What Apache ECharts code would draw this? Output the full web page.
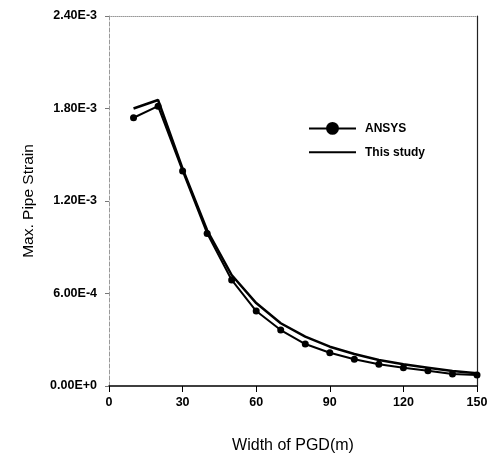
<!DOCTYPE html>
<html><head><meta charset="utf-8">
<script src="https://cdn.jsdelivr.net/npm/echarts@6/dist/echarts.min.js"></script>
<style>html,body{margin:0;padding:0;background:#fff}#c{width:489px;height:457px}</style>
</head><body><div id="c"></div>
<script>
var widths = [10,20,30,40,50,60,70,80,90,100,110,120,130,140,150];
var ansys = [1.74e-3,1.815e-3,1.395e-3,9.9e-4,6.88e-4,4.86e-4,3.63e-4,2.72e-4,2.16e-4,1.73e-4,1.41e-4,1.19e-4,9.9e-5,7.8e-5,7.1e-5];
var thisStudy = [1.80e-3,1.855e-3,1.41e-3,1.01e-3,7.2e-4,5.38e-4,4.07e-4,3.2e-4,2.55e-4,2.08e-4,1.69e-4,1.41e-4,1.19e-4,9.7e-5,8.2e-5];
var yTickLabels = ['0.00E+0','6.00E-4','1.20E-3','1.80E-3','2.40E-3'];
var xTickLabels = ['0','30','60','90','120','150'];

var chart = echarts.init(document.getElementById('c'));
var lab = {fontFamily:'Liberation Sans, Arial', fontWeight:'bold', fontSize:12.5, color:'#000'};
chart.setOption({
  animation:false,
  backgroundColor:'#fff',
  grid:{left:109, right:12, top:16, bottom:71, containLabel:false, outerBoundsMode:'none'},
  legend:{
    orient:'vertical', left:303, top:117, itemWidth:47, itemHeight:16, itemGap:11,
    textStyle:{fontFamily:'Liberation Sans, Arial', fontWeight:'bold', fontSize:12, color:'#000', padding:[0,0,0,4]},
    data:[{name:'ANSYS'},{name:'This study', itemStyle:{opacity:0}}]
  },
  xAxis:[{
    type:'value', min:0, max:150, interval:30, position:'bottom',
    name:'Width of PGD(m)', nameLocation:'middle', nameGap:52,
    nameTextStyle:{fontFamily:'Liberation Sans, Arial', fontSize:16, color:'#000'},
    axisLine:{lineStyle:{color:'#000', width:1.5}},
    axisTick:{inside:false, length:6, lineStyle:{color:'#000'}},
    axisLabel:Object.assign({margin:10, formatter:function(v){return xTickLabels[Math.round(v/30)];}}, lab),
    splitLine:{show:false}
  },{
    type:'value', min:0, max:150, position:'top',
    axisLine:{onZero:false, lineStyle:{color:'#999', type:'dotted', width:1}},
    axisTick:{show:false}, axisLabel:{show:false}, splitLine:{show:false}
  }],
  yAxis:[{
    type:'value', min:0, max:2.4e-3, interval:6e-4,
    name:'Max. Pipe Strain', nameLocation:'middle', nameGap:72, nameRotate:90,
    nameTextStyle:{fontFamily:'Liberation Sans, Arial', fontSize:15.5, color:'#000'},
    axisLine:{show:true, lineStyle:{color:'#999', type:'dashed', width:1}},
    axisTick:{show:true, length:4, lineStyle:{color:'#777'}},
    axisLabel:Object.assign({margin:12, formatter:function(v){return yTickLabels[Math.round(v/6e-4)];}}, lab),
    splitLine:{show:false}
  },{
    type:'value', min:0, max:2.4e-3, position:'right',
    axisLine:{show:true, onZero:false, lineStyle:{color:'#222', width:1.2}},
    axisTick:{show:false}, axisLabel:{show:false}, splitLine:{show:false}
  }],
  series:[{
    name:'ANSYS', type:'line',
    data:widths.map(function(w,i){return [w, ansys[i]];}),
    symbol:'circle', symbolSize:7, showSymbol:true,
    lineStyle:{color:'#000', width:2}, itemStyle:{color:'#000'}
  },{
    name:'This study', type:'line',
    data:widths.map(function(w,i){return [w, thisStudy[i]];}),
    symbol:'none',
    lineStyle:{color:'#000', width:2.5}, itemStyle:{color:'#000'}
  }]
});
</script></body></html>
